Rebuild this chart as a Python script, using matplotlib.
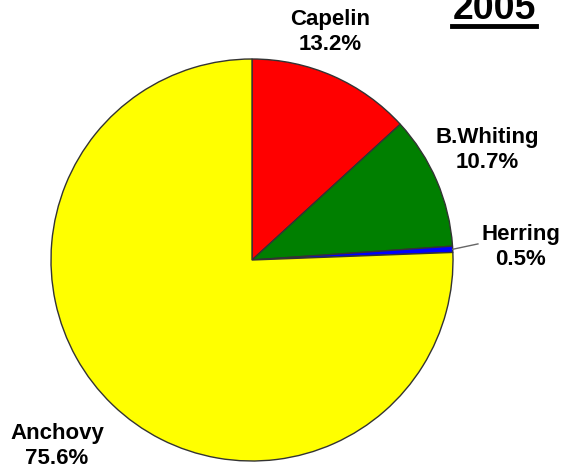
import numpy as np
import matplotlib
matplotlib.use("Agg")
import matplotlib.pyplot as plt
from matplotlib.lines import Line2D

plt.rcParams['font.family'] = ['Liberation Sans', 'DejaVu Sans']

species = ["Capelin", "B.Whiting", "Herring", "Anchovy"]
shares = [13.2, 10.7, 0.5, 75.6]
colors = ["#FF0000", "#007F00", "#0000FF", "#FFFF00"]
year = "2005"

# label centres (pie radius = 1)
label_pos = [(0.388, 1.134), (1.169, 0.547), (1.338, 0.065), (-0.970, -0.925)]

W, H = 563, 469
fig = plt.figure(figsize=(W / 100, H / 100), dpi=100)
ax = fig.add_axes([0, 0, 1, 1])

cx, cy, r = 252, 260, 201
ax.set_xlim(-cx / r, (W - cx) / r)
ax.set_ylim(-(H - cy) / r, cy / r)
ax.axis("off")

wedges, _ = ax.pie(shares, colors=colors, startangle=90, counterclock=False,
                   radius=1.0, center=(0, 0), frame=True,
                   wedgeprops=dict(edgecolor="#333333", linewidth=1.0))
ax.set_xlim(-cx / r, (W - cx) / r)
ax.set_ylim(-(H - cy) / r, cy / r)
ax.set_aspect("auto")
ax.axis("off")

for name, val, (lx, ly) in zip(species, shares, label_pos):
    ax.text(lx, ly, f"{name}\n{val:.1f}%", ha="center", va="center",
            fontsize=16, fontweight="bold", linespacing=1.25)

# leader line for Herring
w = wedges[2]
mid = np.deg2rad((w.theta1 + w.theta2) / 2)
ax.plot([np.cos(mid), 1.124], [np.sin(mid), 0.080], color="#666666", lw=1)

t = ax.text(1.204, 1.199, year, ha="center", va="baseline",
            fontsize=27, fontweight="bold")
fig.canvas.draw()
bb = t.get_window_extent()
uy = bb.y0 + 1
fig.add_artist(Line2D([bb.x0 / W, bb.x1 / W], [uy / H, uy / H],
                      transform=fig.transFigure, color="black", lw=3.5))

fig.savefig("out.png", dpi=100)
